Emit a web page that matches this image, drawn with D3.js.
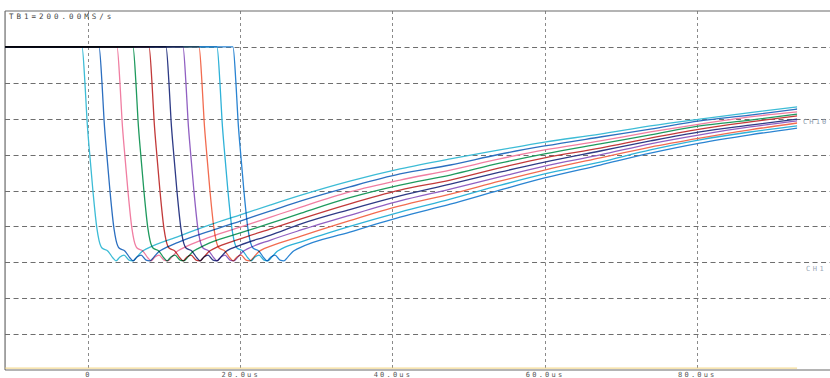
<!DOCTYPE html>
<html>
<head>
<meta charset="utf-8">
<script src="https://cdn.jsdelivr.net/npm/d3@7"></script>
<style>
  html, body { margin: 0; padding: 0; background: #fff; }
  svg { display: block; }
  text { font-family: "DejaVu Sans Mono", "Liberation Mono", monospace; }
</style>
</head>
<body>
<svg id="scope" width="830" height="378"></svg>
<script>
// Acquisition window (µs) and screen divisions
const timeStart = -10.9;
const timeEnd = 93.2;
const timeTicks = [0, 20, 40, 60, 80];
const timeTickLabels = ["0", "20.0us", "40.0us", "60.0us", "80.0us"];
const levelTicks = [1, 2, 3, 4, 5, 6, 7, 8, 9];

// Channels, in order of their falling edges
const channelNames = ["CH1", "CH2", "CH3", "CH4", "CH5", "CH6", "CH7", "CH8", "CH9", "CH10"];
const channelColors = ["#3dbcd6", "#2c6fc0", "#f07ea2", "#1f9a5e", "#c23a3a",
                       "#2e3b86", "#9160c2", "#f26c50", "#2fb2d8", "#2a84d2"];
const fallTimes = [-0.79, 1.45, 3.81, 5.91, 8.02, 10.25, 12.48, 14.59, 16.95, 19.05];
const preLevel = 9.0;

// Falling edge and ringing: time after the edge (µs) and level (div)
const edgeTime  = [0, 0.39, 0.66, 1.05, 1.45, 1.97, 2.23, 2.63, 3.42, 4.07,
                   4.47, 4.99, 5.52, 6.18, 6.70, 7.23, 7.88, 8.54];
const edgeLevel = [9.00, 7.99, 6.96, 5.93, 4.96, 3.93, 3.62, 3.40, 3.31, 3.12,
                   3.04, 3.15, 3.20, 3.06, 3.04, 3.15, 3.30, 3.38];

// Recovery: level (div) of each channel at these times (µs); null = still ringing
const recoveryTimes = [12, 16, 20, 24, 28, 34.4, 41, 47.6, 54.1, 60, 67.3, 73.9, 80.4, 87, 93.2];
const recoveryCH1  = [3.73, 4.04, 4.32, 4.60, 4.87, 5.26, 5.60, 5.88, 6.13, 6.35, 6.57, 6.80, 6.99, 7.17, 7.33];
const recoveryCH2  = [3.57, 3.87, 4.15, 4.43, 4.71, 5.10, 5.46, 5.71, 6.01, 6.24, 6.49, 6.71, 6.94, 7.10, 7.27];
const recoveryCH3  = [null, 3.70, 3.98, 4.26, 4.54, 4.96, 5.29, 5.57, 5.88, 6.13, 6.38, 6.63, 6.85, 7.05, 7.19];
const recoveryCH4  = [null, 3.54, 3.82, 4.09, 4.37, 4.80, 5.15, 5.43, 5.76, 6.02, 6.30, 6.55, 6.80, 6.96, 7.13];
const recoveryCH5  = [null, null, 3.65, 3.93, 4.21, 4.63, 5.01, 5.29, 5.63, 5.91, 6.18, 6.46, 6.71, 6.91, 7.08];
const recoveryCH6  = [null, null, 3.48, 3.76, 4.07, 4.47, 4.85, 5.18, 5.51, 5.79, 6.10, 6.38, 6.63, 6.82, 6.99];
const recoveryCH7  = [null, null, null, 3.62, 3.90, 4.31, 4.71, 5.04, 5.38, 5.68, 5.99, 6.30, 6.55, 6.77, 6.94];
const recoveryCH8  = [null, null, null, 3.45, 3.73, 4.16, 4.57, 4.90, 5.26, 5.57, 5.91, 6.21, 6.46, 6.69, 6.88];
const recoveryCH9  = [null, null, null, null, 3.57, 4.00, 4.40, 4.76, 5.14, 5.46, 5.79, 6.13, 6.41, 6.63, 6.80];
const recoveryCH10 = [null, null, null, null, null, 3.84, 4.26, 4.62, 5.01, 5.35, 5.71, 6.04, 6.32, 6.55, 6.74];
const recoveryLevels = [recoveryCH1, recoveryCH2, recoveryCH3, recoveryCH4, recoveryCH5,
                        recoveryCH6, recoveryCH7, recoveryCH8, recoveryCH9, recoveryCH10];

// Faint baseline trace along the bottom of the screen
const baseTime = [timeStart, timeEnd];
const baseLevel = [0.05, 0.05];

const svg = d3.select("#scope");
const x = d3.scaleLinear().domain([0, 100]).range([88, 849]);
const y = d3.scaleLinear().domain([0, 10]).range([370, 11]);

const left = x(timeStart);
const right = 830;

// Grid
const grid = svg.append("g");
grid.selectAll("line.h").data(levelTicks).join("line")
  .attr("x1", left).attr("x2", right)
  .attr("y1", d => Math.round(y(d)) + 0.5).attr("y2", d => Math.round(y(d)) + 0.5)
  .attr("stroke", "#6e6e6e").attr("stroke-width", 1)
  .attr("stroke-dasharray", "5,3.5");
grid.selectAll("line.v").data(timeTicks).join("line")
  .attr("x1", d => Math.round(x(d)) + 0.5).attr("x2", d => Math.round(x(d)) + 0.5)
  .attr("y1", y(10)).attr("y2", y(0))
  .attr("stroke", "#8a8a8a").attr("stroke-width", 1)
  .attr("stroke-dasharray", "3,3");

// Screen frame (left, top, bottom)
const frame = svg.append("g").attr("stroke", "#6a6a6a").attr("stroke-width", 1.2).attr("fill", "none");
frame.append("line").attr("x1", left).attr("x2", left).attr("y1", y(10)).attr("y2", y(0));
frame.append("line").attr("x1", left).attr("x2", right).attr("y1", y(10)).attr("y2", y(10));
frame.append("line").attr("x1", left).attr("x2", right).attr("y1", y(0)).attr("y2", y(0));

// Traces, clipped to the record length
svg.append("clipPath").attr("id", "record")
  .append("rect").attr("x", left).attr("y", 0)
  .attr("width", x(timeEnd) - left).attr("height", 378);

const line = d3.line()
  .x(d => x(d[0])).y(d => y(d[1]))
  .curve(d3.curveMonotoneX);

const traces = svg.append("g").attr("clip-path", "url(#record)");

traces.append("path")
  .datum(baseTime.map((t, i) => [t, baseLevel[i]]))
  .attr("d", line).attr("fill", "none")
  .attr("stroke", "#f1d27c").attr("stroke-width", 1.2).attr("opacity", 0.8);

channelNames.forEach((name, c) => {
  const pts = [[timeStart, preLevel]]
    .concat(edgeTime.map((t, i) => [fallTimes[c] + t, edgeLevel[i]]))
    .concat(recoveryTimes.map((t, i) => [t, recoveryLevels[c][i]]).filter(p => p[1] !== null));
  traces.append("path")
    .datum(pts)
    .attr("class", name)
    .attr("d", line)
    .attr("fill", "none")
    .attr("stroke", channelColors[c])
    .attr("stroke-width", 1.3)
    .style("mix-blend-mode", "multiply");
});

// Annotations
svg.append("text").attr("x", 9).attr("y", 19)
  .attr("font-size", 7.5).attr("letter-spacing", 3).attr("fill", "#444")
  .text("TB1=200.00MS/s");
svg.append("text").attr("x", 803).attr("y", 124)
  .attr("font-size", 7).attr("letter-spacing", 2.1).attr("fill", "#8e9cae")
  .text("CH10");
svg.append("text").attr("x", 806).attr("y", 271)
  .attr("font-size", 7).attr("letter-spacing", 2.5).attr("fill", "#9aa8b8")
  .text("CH1");

// Time axis labels
const axis = d3.axisBottom(x)
  .tickValues(timeTicks)
  .tickFormat((d, i) => timeTickLabels[i])
  .tickSize(0).tickPadding(0);
const ax = svg.append("g").attr("transform", `translate(0,${y(0) + 2.5})`).call(axis);
ax.select(".domain").remove();
ax.selectAll("text")
  .attr("font-size", 7).attr("letter-spacing", 2.2).attr("fill", "#555")
  .style("font-family", "DejaVu Sans Mono, monospace");
</script>
</body>
</html>
